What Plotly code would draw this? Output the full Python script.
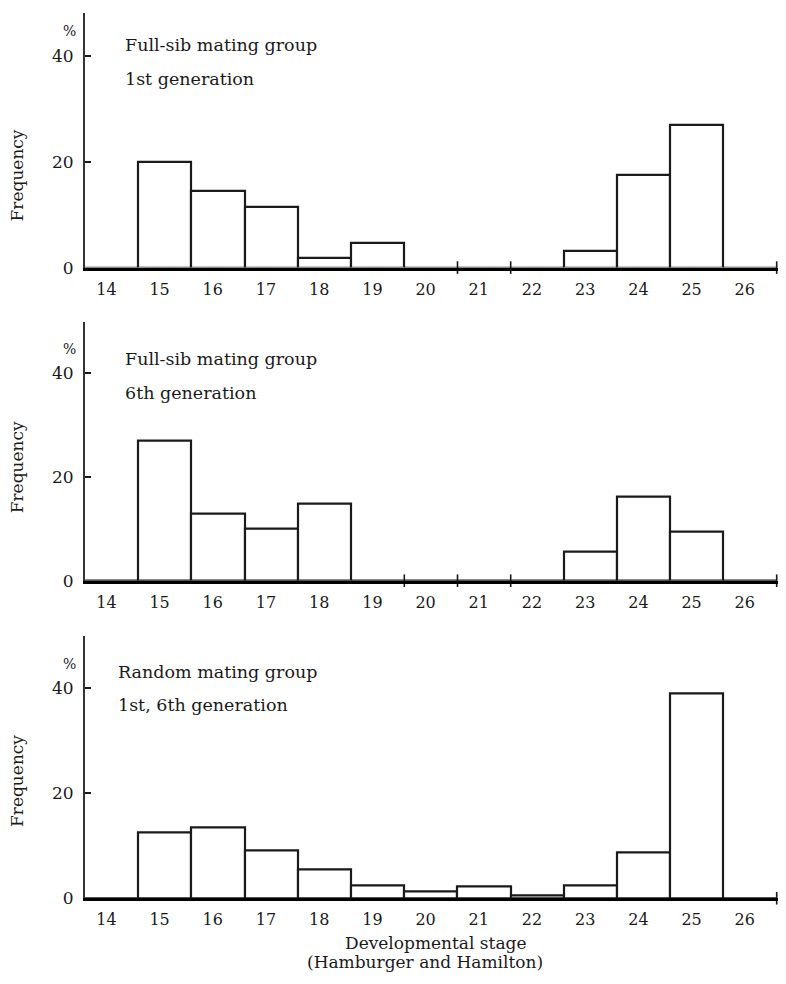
import plotly.graph_objects as go
from plotly.subplots import make_subplots

stages = [14, 15, 16, 17, 18, 19, 20, 21, 22, 23, 24, 25, 26]
tick_labels = [str(s) for s in stages]

fullsib_1st = [0, 20.0, 14.4, 11.5, 1.8, 4.6, 0, 0, 0, 3.2, 17.5, 27.0, 0]
fullsib_6th = [0, 26.9, 12.8, 10.0, 14.9, 0, 0, 0, 0, 5.5, 16.2, 9.5, 0]
random_1st_6th = [0, 12.5, 13.5, 9.1, 5.4, 2.4, 1.2, 2.2, 0.5, 2.4, 8.7, 38.9, 0]

panel_titles = [
    ("Full-sib mating group", "1st generation"),
    ("Full-sib mating group", "6th generation"),
    ("Random mating group", "1st, 6th generation"),
]
series = [fullsib_1st, fullsib_6th, random_1st_6th]
y_ticks = [0, 20, 40]

# the page has an 8px body margin on every side; size the figure so the page is 786x984
OFF = 8
W, H = 786 - 2 * OFF, 984 - 2 * OFF
FONT = "DejaVu Serif"
INK = "#1a1a1a"


def px_x(p):
    return (p - OFF) / W


def px_y(p):
    return 1 - (p - OFF) / H


# panel pixel geometry in page coords (top, bottom of plot area) and y range tops
panel_px = [(13, 270.3), (325, 586.7), (643, 907.5)]
y_tops = [48.1, 49.8, 49.8]
title_y = [(42.1, 35.6), (42.6, 36.0), (43.1, 36.8)]
title_x = [14.22, 14.22, 14.09]
freq_y = [17.4, 21.8, 22.3]

fig = make_subplots(rows=3, cols=1)

x0_px = 85.1
unit_px = 53.2
x_end = 13.5 + ((OFF + W) - x0_px) / unit_px

for i, vals in enumerate(series):
    r = i + 1
    fig.add_trace(go.Bar(
        x=stages, y=vals, width=1,
        marker=dict(color="white", line=dict(color=INK, width=2.2)),
        showlegend=False, hoverinfo="x+y",
    ), row=r, col=1)

    # tiny outline stubs left by the empty (zero-height) classes
    stub_x = []
    for k in range(len(stages)):
        if vals[k] == 0:
            nxt = vals[k + 1] if k + 1 < len(vals) else 0
            if nxt == 0:
                stub_x.append(stages[k] + 0.5)
    fig.add_trace(go.Scatter(
        x=stub_x, y=[0] * len(stub_x), mode="markers",
        marker=dict(symbol="line-ns-open", size=9, color=INK,
                    line=dict(color=INK, width=1.6)),
        showlegend=False, hoverinfo="skip", cliponaxis=False,
    ), row=r, col=1)

    top, bot = panel_px[i]
    yd = [px_y(bot), px_y(top)]
    xa = "xaxis" if i == 0 else f"xaxis{r}"
    ya = "yaxis" if i == 0 else f"yaxis{r}"
    fig.layout[xa].update(
        domain=[px_x(x0_px), 1.0], range=[13.5, x_end],
        tickvals=[s - 0.1 for s in stages], ticktext=tick_labels,
        ticks="outside", ticklen=5, tickcolor="rgba(0,0,0,0)",
        showline=True, linecolor="#000", linewidth=2.6,
        showgrid=False, zeroline=False,
        tickfont=dict(family=FONT, size=16, color=INK),
    )
    fig.layout[ya].update(
        domain=yd, range=[0, y_tops[i]],
        tickvals=y_ticks, ticktext=[str(v) for v in y_ticks],
        ticks="inside", ticklen=6, tickwidth=2, tickcolor=INK,
        ticklabelstandoff=6,
        showline=True, linecolor="#333", linewidth=2.2,
        showgrid=False, zeroline=False,
        tickfont=dict(family=FONT, size=17, color=INK),
    )

    xref = "x" if i == 0 else f"x{r}"
    yref = "y" if i == 0 else f"y{r}"
    t1, t2 = panel_titles[i]
    fig.add_annotation(x=title_x[i], y=title_y[i][0], xref=xref, yref=yref,
                       text=t1, showarrow=False, xanchor="left", yanchor="middle",
                       font=dict(family=FONT, size=17.5, color=INK))
    fig.add_annotation(x=title_x[i], y=title_y[i][1], xref=xref, yref=yref,
                       text=t2, showarrow=False, xanchor="left", yanchor="middle",
                       font=dict(family=FONT, size=17.5, color=INK))
    # percent sign above the top tick
    fig.add_annotation(x=px_x(69), y=44.6, xref="paper", yref=yref,
                       text="%", showarrow=False, xanchor="center", yanchor="middle",
                       font=dict(family=FONT, size=14, color=INK))
    # y title
    fig.add_annotation(x=px_x(17), y=freq_y[i], xref="paper", yref=yref,
                       text="Frequency", textangle=-90, showarrow=False,
                       xanchor="center", yanchor="middle",
                       font=dict(family=FONT, size=17, color=INK))

fig.add_annotation(x=px_x(435), y=px_y(953), xref="paper", yref="paper",
                   text="Developmental stage", showarrow=False,
                   xanchor="center", yanchor="middle",
                   font=dict(family=FONT, size=17, color=INK))
fig.add_annotation(x=px_x(425), y=px_y(972), xref="paper", yref="paper",
                   text="(Hamburger and Hamilton)", showarrow=False,
                   xanchor="center", yanchor="middle",
                   font=dict(family=FONT, size=17, color=INK))

fig.update_layout(
    width=W, height=H,
    margin=dict(l=0, r=0, t=0, b=0),
    paper_bgcolor="white", plot_bgcolor="white",
    bargap=0,
    font=dict(family=FONT, color=INK),
)

fig.write_html("out.html")
